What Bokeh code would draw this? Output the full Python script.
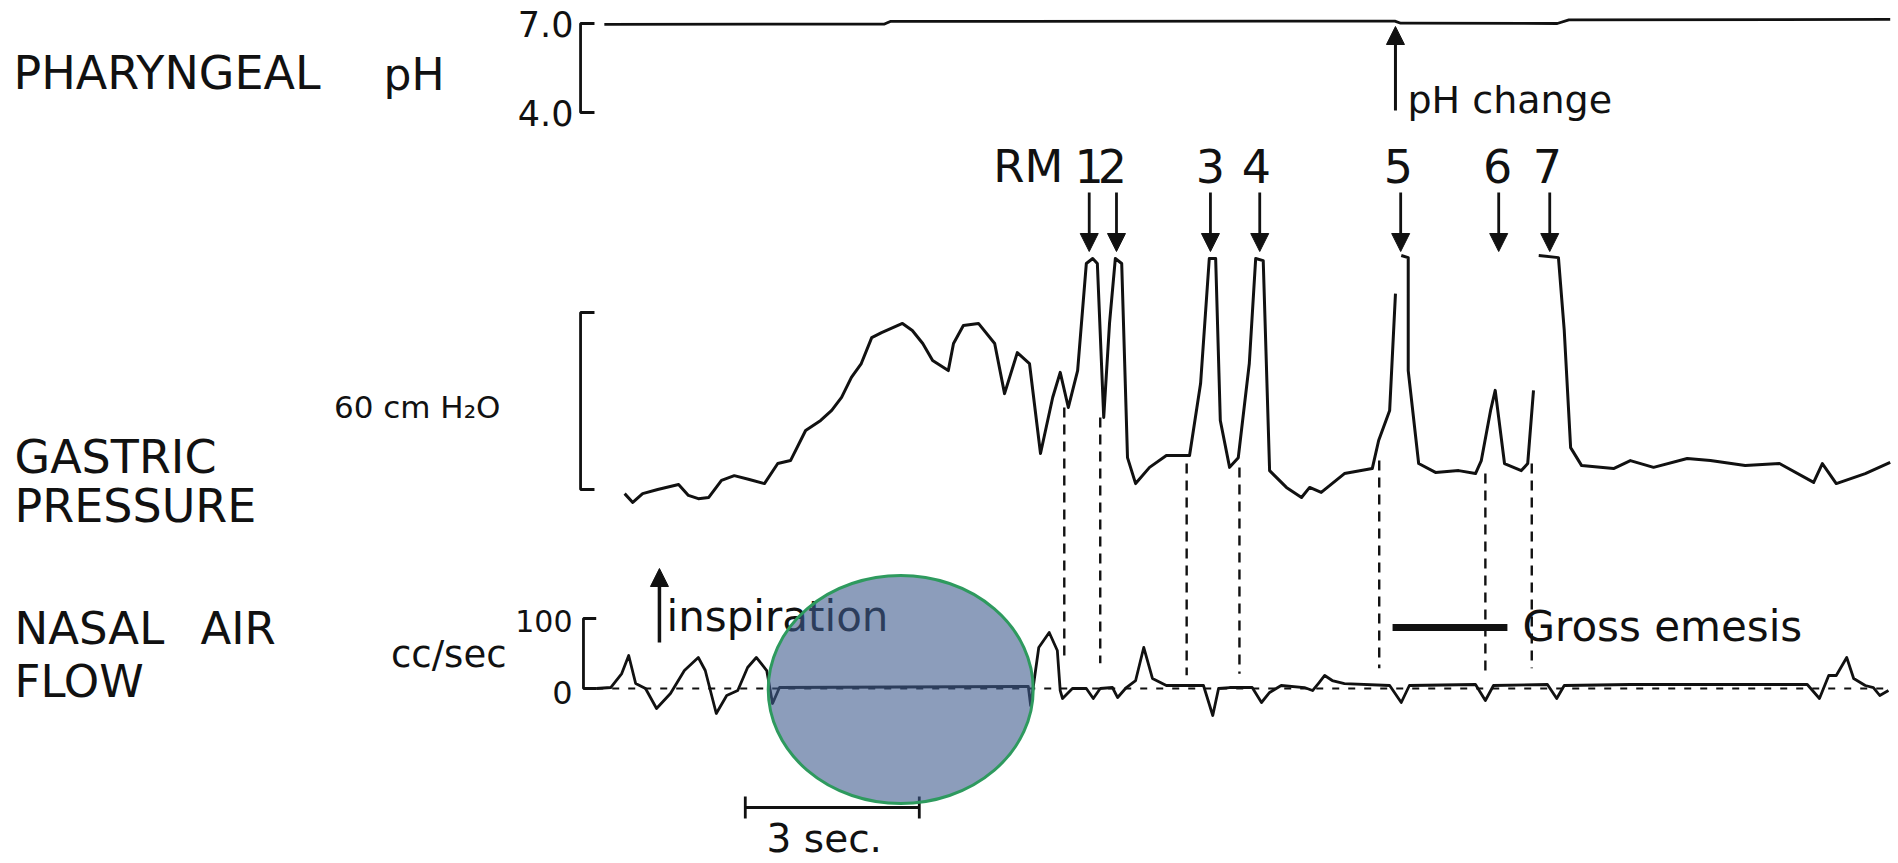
from bokeh.plotting import figure
from bokeh.models import Range1d, Arrow, NormalHead, ColumnDataSource
from bokeh.embed import file_html
from bokeh.resources import INLINE
from bokeh.core.properties import value

NAN = float("nan")
FONT = value("DejaVu Sans")
INK = "#111111"

# ---------------- data (time in s, pH, cm H2O, cc/sec) ----------------
ph_t = [-0.33, 4.50, 4.60, 13.30, 13.40, 16.10, 16.30, 21.84]
ph_v = [6.97, 6.98, 7.07, 7.08, 7.01, 7.00, 7.12, 7.14]

gas_t = [0.02, 0.16, 0.33, 0.59, 0.95, 1.12, 1.29, 1.47, 1.69, 1.91, 2.17, 2.43, 2.66, 2.88,
         3.14, 3.40, 3.59, 3.76, 3.93, 4.10, 4.28, 4.45, 4.81, 4.98, 5.16, 5.33, 5.60, 5.69,
         5.86, 6.12, 6.40, 6.57, 6.79, 7.00, 7.19, 7.40, 7.53, 7.67, 7.83, 7.98, 8.09, 8.17,
         8.28, 8.38, 8.48, 8.59, 8.69, 8.83, 9.07, 9.36, 9.76, 9.95, 10.10, 10.21, 10.29,
         10.45, 10.60, 10.79, 10.90, 11.03, 11.14, 11.43, 11.69, 11.83, 12.03, 12.43, 12.91,
         13.02, 13.21, 13.31, NAN, 13.41, 13.53, 13.53, 13.71, 14.00, 14.40, 14.69, 14.79,
         14.95, 15.03, 15.19, 15.48, 15.59, 15.69, NAN, 15.78, 16.12, 16.22, 16.33, 16.52,
         17.07, 17.36, 17.76, 18.34, 18.74, 19.34, 19.93, 20.52, 20.67, 20.91, 21.41, 21.84]
gas_p = [-1.4, -4.4, -1.4, 0.0, 1.7, -2.0, -3.1, -2.7, 3.1, 4.7, 3.4, 2.0, 8.8, 9.8,
         20.0, 23.4, 26.8, 31.2, 38.0, 42.7, 51.5, 53.2, 56.3, 53.9, 49.5, 43.7, 40.3, 49.5,
         55.6, 56.3, 49.5, 32.5, 46.4, 42.7, 12.2, 31.2, 39.7, 27.8, 40.3, 76.6, 78.3, 76.6,
         24.4, 56.3, 78.3, 76.6, 10.8, 2.0, 7.5, 11.5, 11.5, 35.9, 78.3, 78.3, 23.4,
         7.5, 10.8, 42.7, 78.3, 77.6, 6.4, 0.7, -2.7, 0.7, -1.0, 5.4, 7.1,
         16.6, 26.8, 66.4, NAN, 79.3, 78.6, 40.3, 8.8, 5.8, 6.4, 5.4, 9.8,
         26.8, 33.6, 8.8, 6.4, 8.8, 33.6, NAN, 79.3, 78.6, 53.9, 14.2, 8.1,
         7.1, 9.8, 7.5, 10.5, 9.8, 8.1, 8.8, 2.4, 8.8, 2.0, 5.4, 9.2]

flow_t = [-0.47, -0.22, -0.03, 0.09, 0.21, 0.38, 0.57, 0.81, 1.05, 1.29, 1.41, 1.60, 1.78,
          1.97, 2.14, 2.29, 2.47, 2.57, 2.69, 6.98, 7.02, 7.16, 7.34, 7.48, 7.53, 7.57, 7.74,
          7.98, 8.10, 8.22, 8.43, 8.52, 8.67, 8.83, 8.97, 9.12, 9.36, 10.00, 10.16, 10.26,
          10.45, 10.84, 11.00, 11.14, 11.34, 11.74, 11.88, 11.98, 12.09, 12.22, 12.43, 13.21,
          13.41, 13.55, 14.69, 14.86, 15.00, 15.93, 16.09, 16.22, 17.36, 20.41, 20.62, 20.78,
          20.91, 21.09, 21.21, 21.41, 21.55, 21.66, 21.81]
flow_v = [0.0, 1.4, 21.4, 47.1, 7.1, 0.0, -28.6, -7.1, 25.7, 44.3, 25.7, -35.7, -10.0,
          -2.9, 30.0, 44.3, 25.7, -21.4, 1.4, 2.9, -24.3, 58.6, 80.0, 54.3, -2.9, -14.3, 0.0,
          0.0, -14.3, 0.0, 1.4, -12.9, 1.4, 11.4, 58.6, 14.3, 4.3, 4.3, -38.6, 0.0,
          1.4, 1.4, -20.0, -5.7, 4.3, 1.4, -2.9, 7.1, 18.6, 11.4, 7.1, 4.3,
          -20.0, 4.3, 5.7, -17.1, 4.3, 5.7, -14.3, 4.3, 5.7, 5.7, -14.3, 18.6,
          18.6, 44.3, 14.3, 4.3, 1.4, -10.0, -2.9]

event_labels = ["1", "2", "3", "4", "5", "6", "7"]
event_t = [8.03, 8.50, 10.12, 10.97, 13.40, 15.09, 15.97]
label_t = [8.03, 8.43, 10.12, 10.91, 13.36, 15.07, 15.93]
rm_t = 6.98
onset_t = [7.60, 8.22, 9.71, 10.62, 13.03, 14.86, 15.66]
onset_p = [27.8, 24.4, 8.8, 7.5, 9.8, 5.4, 8.8]
onset_flow = [40, 36, 19, 21, 29, 23, 29]
ph_change_t = 13.31
inspiration_t = 0.62
emesis_t = [13.26, 15.24]
emesis_flow = 87
time_bar = [2.10, 5.10]        # 3 sec
ph_scale = [4.0, 7.0]
gas_scale = [0, 60]
flow_scale = [0, 100]

# ---------------- figure (Bokeh's page template has no body margin) ----------------
W, H = 1898, 863
p = figure(width=W, height=H, output_backend="svg", toolbar_location=None, title=None,
           x_axis_location=None, y_axis_location=None,
           min_border=0, min_border_left=0, min_border_right=0,
           min_border_top=0, min_border_bottom=0,
           x_range=Range1d(-10.741, 21.983), y_range=Range1d(-126.78, 165.76))
p.grid.visible = False
p.outline_line_color = None
p.background_fill_color = "white"
p.border_fill_color = "white"
p.extra_x_ranges = {"px": Range1d(0, 1898)}
p.extra_y_ranges = {"py": Range1d(863, 0),
                    "ph": Range1d(-21.312, 7.775),
                    "flow": Range1d(-250.0, 982.86)}


def gas_to_py(v):
    return 489 - 2.95 * v


def flow_to_py(v):
    return 688 - 0.70 * v


BR_T, TICK_T = -0.74, -0.50

# scale brackets
p.line([TICK_T, BR_T, BR_T, TICK_T], [ph_scale[1], ph_scale[1], ph_scale[0], ph_scale[0]],
       y_range_name="ph", line_color=INK, line_width=2.8)
p.line([TICK_T, BR_T, BR_T, TICK_T], [gas_scale[1], gas_scale[1], gas_scale[0], gas_scale[0]],
       line_color=INK, line_width=2.8)
p.line([TICK_T + 0.03, BR_T + 0.05, BR_T + 0.05, flow_t[0]],
       [flow_scale[1], flow_scale[1], flow_scale[0], flow_scale[0]],
       y_range_name="flow", line_color=INK, line_width=2.8)

# zero reference (dashed) of airflow
p.line([flow_t[0], flow_t[-1]], [0, 0], y_range_name="flow", line_color=INK,
       line_width=1.8, line_dash="7 9")

# traces
p.line(ph_t, ph_v, y_range_name="ph", line_color=INK, line_width=2.8)
p.line(gas_t, gas_p, line_color=INK, line_width=3.0, line_join="round")
p.line(flow_t, flow_v, y_range_name="flow", line_color=INK, line_width=2.8,
       line_join="round")

# dashed event lines from gastric trace down to airflow trace
p.segment(x0=onset_t, y0=[gas_to_py(v) for v in onset_p],
          x1=onset_t, y1=[flow_to_py(v) for v in onset_flow],
          y_range_name="py", line_color=INK, line_width=2.4, line_dash="10 7")

# event arrows
arr_src = ColumnDataSource(dict(x0=event_t, y0=[192] * len(event_t),
                                x1=event_t, y1=[251] * len(event_t)))
p.add_layout(Arrow(end=NormalHead(size=18, fill_color=INK, line_color=INK),
                   source=arr_src, x_start="x0", y_start="y0", x_end="x1", y_end="y1",
                   y_range_name="py", line_color=INK, line_width=2.8))
# pH change arrow and inspiration arrow
p.add_layout(Arrow(end=NormalHead(size=18, fill_color=INK, line_color=INK),
                   x_start=ph_change_t, y_start=110, x_end=ph_change_t, y_end=26,
                   y_range_name="py", line_color=INK, line_width=3))
p.add_layout(Arrow(end=NormalHead(size=18, fill_color=INK, line_color=INK),
                   x_start=inspiration_t, y_start=642, x_end=inspiration_t, y_end=568,
                   y_range_name="py", line_color=INK, line_width=3.5))

# gross emesis bar
p.line(emesis_t, [emesis_flow, emesis_flow], y_range_name="flow", line_color=INK,
       line_width=7)

# 3 sec time bar
p.line(time_bar, [807, 807], y_range_name="py", line_color=INK, line_width=2.8)
p.segment(x0=time_bar, y0=[796, 796], x1=time_bar, y1=[818, 818], y_range_name="py",
          line_color=INK, line_width=2.8)

LIFT = 0.37  # svg text sits about this fraction of an em below the requested baseline


def lab(txt, x, y, size, align="left", xr="px"):
    p.text(x=[x], y=[y - LIFT * size], text=[txt], x_range_name=xr, y_range_name="py",
           text_font=FONT, text_font_size=f"{size}px", text_color=INK,
           text_align=align, text_baseline="alphabetic")


lab("PHARYNGEAL", 13, 90, 46)
lab("pH", 383, 90, 44)
lab("GASTRIC", 14, 474, 46)
lab("PRESSURE", 14, 523, 46)
lab("NASAL", 14, 645, 45)
lab("AIR", 200, 645, 45)
lab("FLOW", 14, 698, 45)
lab("7.0", 573, 36, 35, "right")
lab("4.0", 573, 125, 35, "right")
lab("60 cm H\u2082O", 500, 418, 31, "right")
lab("cc/sec", 506, 668, 37, "right")
lab("100", 572, 632, 30, "right")
lab("0", 572, 704, 32, "right")
lab("inspiration", 666, 632, 42)
lab("pH  change", 1407, 114, 38)
lab("Gross  emesis", 1522, 642, 42)
lab("3  sec.", 830, 852, 39, "center")
lab("RM", rm_t, 183, 45, "center", xr="default")

p.text(x=label_t, y=[183 - LIFT * 46] * len(label_t), text=event_labels, y_range_name="py",
       text_font=FONT, text_font_size="46px", text_color=INK,
       text_align="center", text_baseline="alphabetic")

# translucent ellipse overlay
p.ellipse(x=[4.78], y=[689], width=265, height=228, width_units="screen",
          height_units="screen", y_range_name="py", fill_color="#3F5C8E",
          fill_alpha=0.6, line_color="#2E9A5E", line_width=3)

open("out.html", "w").write(file_html(p, INLINE))
